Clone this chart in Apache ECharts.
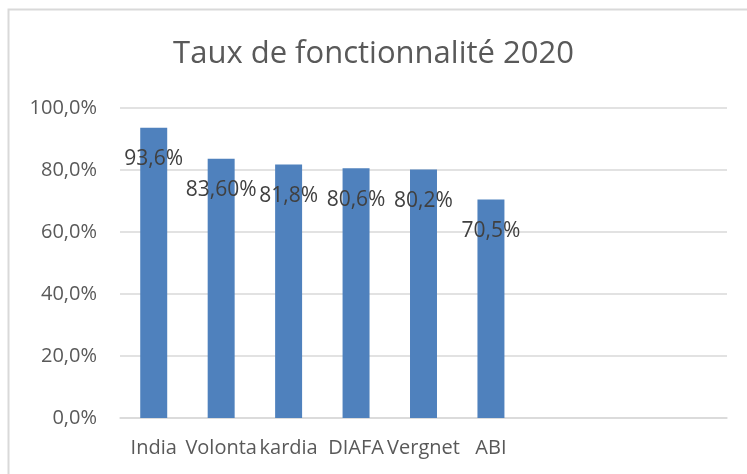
<!DOCTYPE html>
<html>
<head>
<meta charset="utf-8">
<script src="https://cdn.jsdelivr.net/npm/echarts@6/dist/echarts.min.js"></script>
<style>
  html, body { margin: 0; padding: 0; background: #fff; }
  #main { width: 747px; height: 474px; }
</style>
</head>
<body>
<div id="main"></div>
<script>
// données du graphique
var categories = ['India', 'Volonta', 'kardia', 'DIAFA', 'Vergnet', 'ABI', '', '', ''];
var values = [93.6, 83.6, 81.8, 80.6, 80.2, 70.5, null, null, null];
var valueLabels = ['93,6%', '83,60%', '81,8%', '80,6%', '80,2%', '70,5%', '', '', ''];
var yTicks = [0, 20, 40, 60, 80, 100];

window.onload = function () {
    var myChart = echarts.init(document.getElementById('main'));
    var font = '"Open Sans", "Noto Sans", sans-serif';

    var option = {
        animation: false,
        backgroundColor: '#fff',
        textStyle: { fontFamily: font },
        title: {
            text: 'Taux de fonctionnalité 2020',
            left: 'center',
            top: 34,
            textStyle: { fontFamily: font, fontSize: 31, fontWeight: 'normal', color: '#595959' }
        },
        graphic: [{
            type: 'rect',
            shape: { x: 8.5, y: 9.5, width: 760, height: 480 },
            style: { fill: 'none', stroke: '#d9d9d9', lineWidth: 2 },
            silent: true
        }],
        grid: { left: 120, right: 20, top: 108, bottom: 56 },
        xAxis: {
            type: 'category',
            data: categories,
            axisLine: { lineStyle: { color: '#d9d9d9', width: 1.5 } },
            axisTick: { show: false },
            axisLabel: {
                interval: 0,
                hideOverlap: false,
                margin: 20,
                fontSize: 20,
                color: '#595959',
                fontFamily: font
            }
        },
        yAxis: {
            type: 'value',
            min: yTicks[0],
            max: yTicks[yTicks.length - 1],
            interval: 20,
            axisLine: { show: false },
            axisTick: { show: false },
            splitLine: { lineStyle: { color: '#d9d9d9', width: 1.5 } },
            axisLabel: {
                margin: 23,
                fontSize: 20,
                color: '#595959',
                fontFamily: font,
                formatter: function (v) { return v.toFixed(1).replace('.', ',') + '%'; }
            }
        },
        series: [{
            type: 'bar',
            data: values,
            barWidth: '40%',
            itemStyle: { color: '#4f81bd' },
            label: {
                show: true,
                position: 'insideTop',
                distance: 21,
                fontSize: 21,
                color: '#404040',
                fontFamily: font,
                formatter: function (p) { return valueLabels[p.dataIndex]; }
            }
        }]
    };

    myChart.setOption(option);
};
</script>
</body>
</html>
